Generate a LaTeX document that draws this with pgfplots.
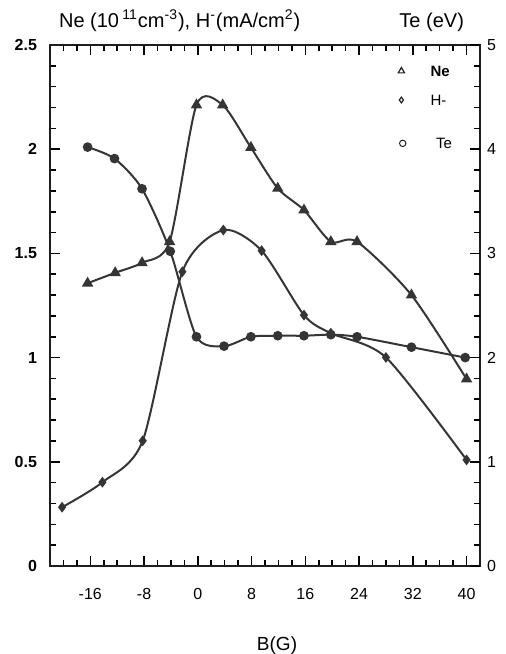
\documentclass[border=0pt]{standalone}
\usepackage{fontspec}
\setmainfont{Liberation Sans}
\usepackage{pgfplots}
\pgfplotsset{compat=1.18}
\usetikzlibrary{calc}
\definecolor{curve}{HTML}{353535}
\definecolor{inkline}{HTML}{1E1E1E}

\pgfplotsset{
  scan/.style={
    scale only axis, width=215pt, height=260.5pt,
    xmin=-22, xmax=42,
    axis line style={draw=inkline, line width=0.8pt},
    tick align=inside,
    major tick length=5pt, minor tick length=3pt,
    tick style={draw=black, line width=0.8pt},
    /pgf/number format/assume math mode=true,
  },
  series/.style={curve, line width=1pt, smooth, tension=0.45, mark options={solid, fill=curve}},
}

\begin{document}
\begin{tikzpicture}
\begin{axis}[scan, name=ax,
  /pgfplots/ymin=0, ymax=2.5,
  xtick={-16,-8,...,40}, minor x tick num=3,
  extra x ticks={-20,-18}, extra x tick labels={},
  extra x tick style={major tick length=3pt},
  ytick={0,0.5,1,1.5,2,2.5}, minor y tick num=4,
  ytick pos=left,
  yticklabel style={font=\bfseries\fontsize{8}{9}\selectfont, xshift=-3pt},
  xticklabel style={font=\fontsize{8}{9}\selectfont, yshift=-7.5pt},
  xlabel={B(G)},
  xlabel style={at={(axis description cs:0.528,0)}, anchor=base, yshift=-42pt, font=\fontsize{9.5}{11}\selectfont},
]
% Ne (left scale)
\addplot[series, mark=triangle*, mark size=2.3pt] coordinates {
  (-16.4,1.357) (-12.3,1.407) (-8.3,1.455) (-4.2,1.556) (-0.2,2.212) (3.7,2.212)
  (7.9,2.008) (11.9,1.812) (15.8,1.708) (19.8,1.556) (23.7,1.556) (31.8,1.300) (40,0.897)
};
% H- (left scale)
\addplot[series, mark=diamond*, mark size=1.9pt] coordinates {
  (-20.2,0.282) (-14.2,0.402) (-8.2,0.601) (-2.3,1.412) (3.8,1.612) (9.5,1.513)
  (15.8,1.204) (19.8,1.117) (28,1.001) (40,0.509)
};
% legend marks
\addplot[only marks, mark=triangle, mark size=1.8pt, inkline, line width=0.6pt] coordinates {(30.3,2.375)};
\addplot[only marks, mark=diamond, mark size=1.4pt, inkline, line width=0.6pt] coordinates {(30.3,2.236)};
\addplot[only marks, mark=o, mark size=1.6pt, inkline, line width=0.5pt] coordinates {(30.5,2.028)};
\node[anchor=west, font=\bfseries\fontsize{7.5}{8}\selectfont] at (axis cs:33.6,2.372) {Ne};
\node[anchor=west, font=\fontsize{7.5}{8}\selectfont] at (axis cs:33.6,2.236) {H-};
\node[anchor=west, font=\fontsize{7.5}{8}\selectfont] at (axis cs:34.4,2.028) {Te};
\end{axis}

\begin{axis}[scan,
  /pgfplots/ymin=0, ymax=5,
  axis line style={draw=none},
  xtick=\empty,
  ytick={0,1,2,3,4,5}, minor y tick num=4,
  ytick pos=right, yticklabel pos=right,
  yticklabel style={font=\fontsize{8}{9}\selectfont},
]
% Te (right scale)
\addplot[series, mark=*, mark size=1.9pt] coordinates {
  (-16.4,4.02) (-12.4,3.91) (-8.3,3.62) (-4.1,3.02) (-0.2,2.20) (3.9,2.11)
  (7.9,2.20) (11.9,2.21) (15.8,2.21) (19.8,2.22) (23.7,2.20) (31.8,2.10) (39.8,2.00)
};
\end{axis}

\node[anchor=base west, font=\fontsize{10}{12}\selectfont] at ($(ax.north west)+(1pt,9pt)$)
  {Ne (10\,\textsuperscript{11}cm\textsuperscript{-3}), H\textsuperscript{-}(mA/cm\textsuperscript{2})};
\node[anchor=base east, font=\fontsize{10}{12}\selectfont] at ($(ax.north east)+(-4.5pt,9pt)$) {Te (eV)};

\pgfresetboundingbox
\path[use as bounding box] ($(ax.south west)+(-25pt,-44pt)$) rectangle ($(ax.north east)+(12.5pt,22.5pt)$);
\end{tikzpicture}
\end{document}
